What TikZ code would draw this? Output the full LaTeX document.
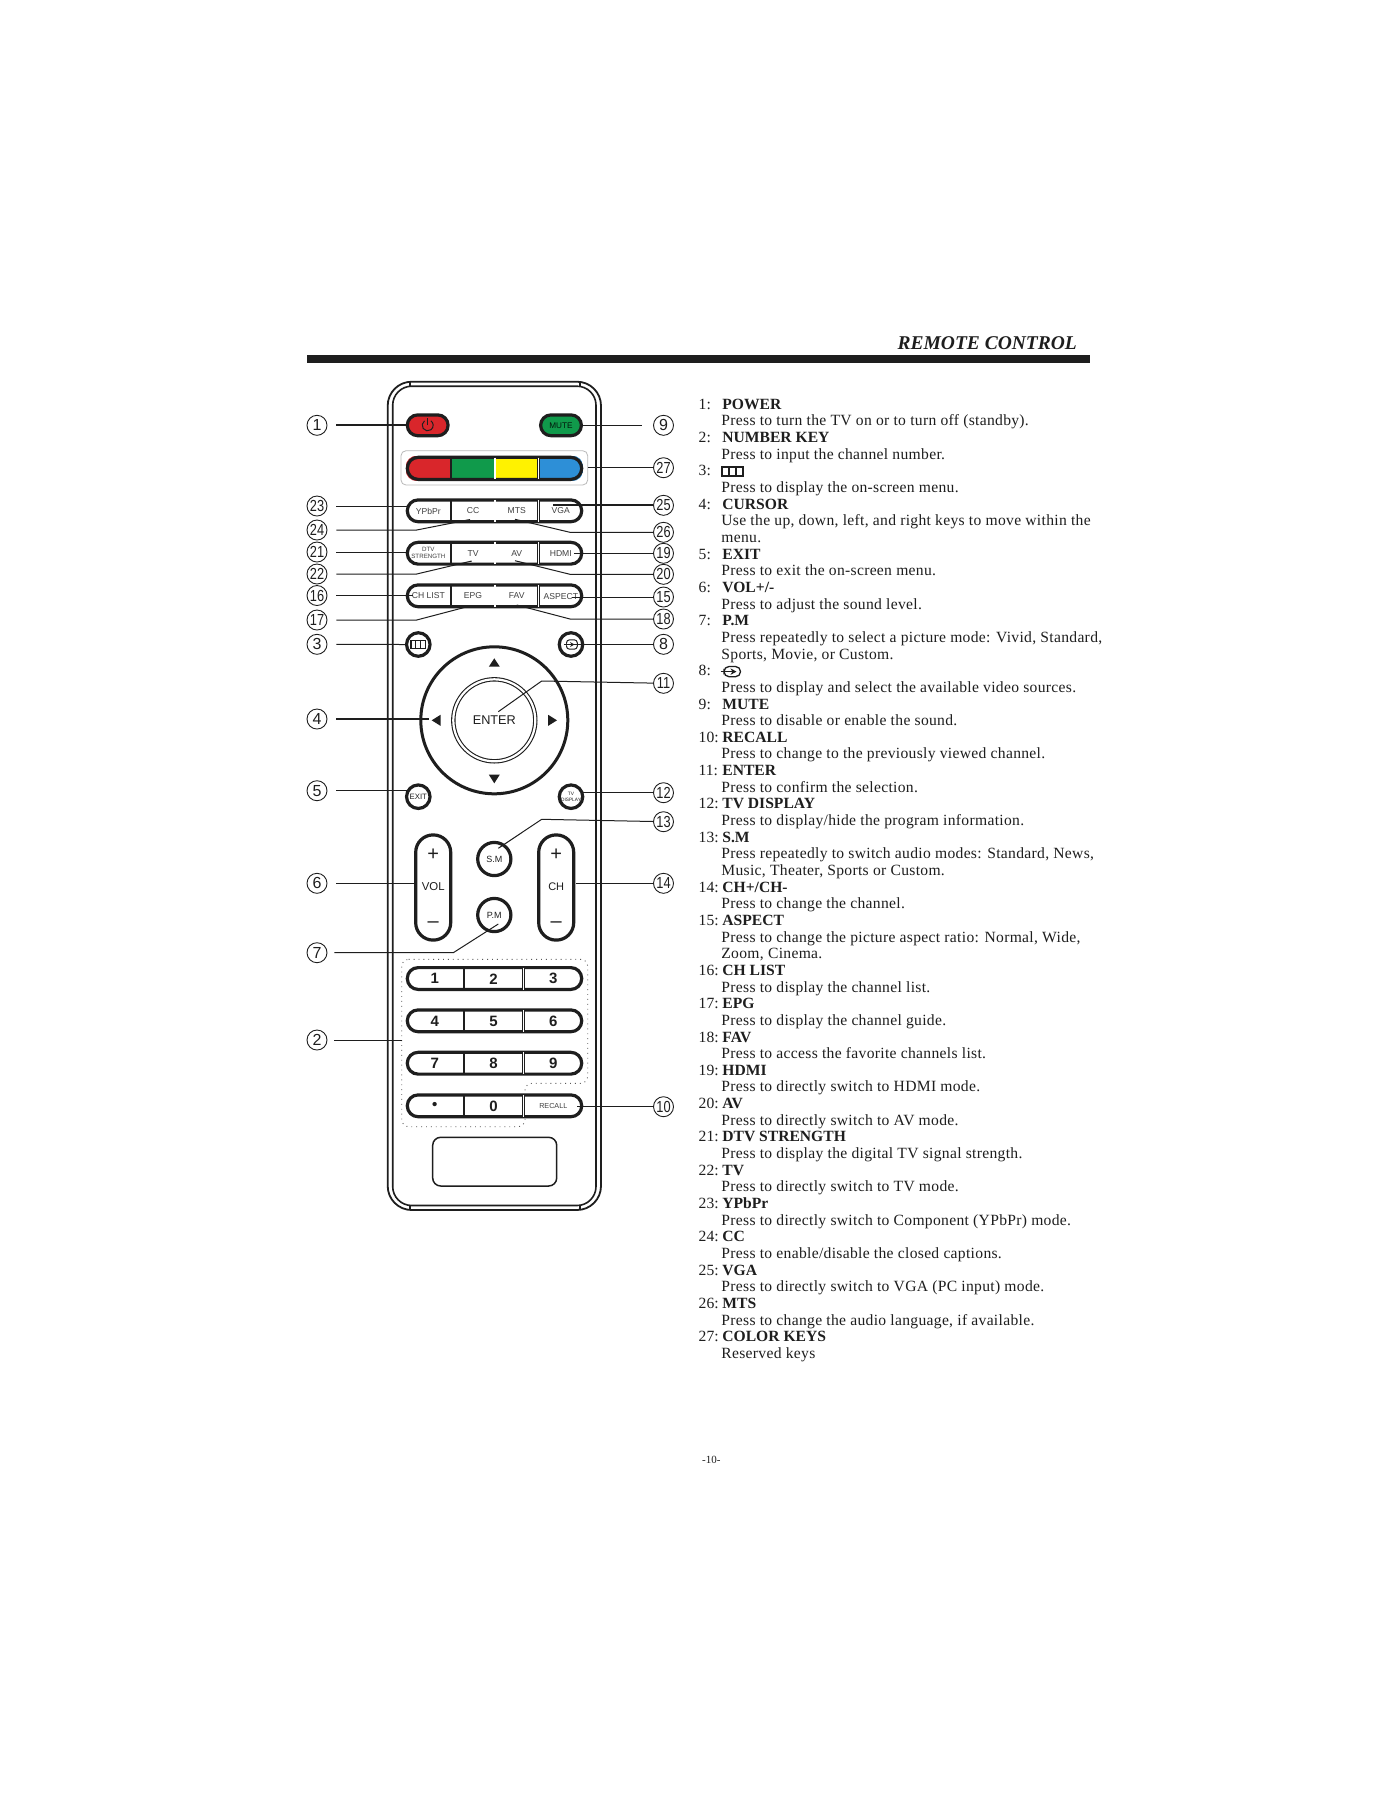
\documentclass[tikz,border=0pt]{standalone}
\usepackage{fontspec}
\setmainfont{Liberation Serif}
\newfontfamily\rsans{Liberation Sans}
\newfontfamily\rcond[FakeStretch=0.8]{Liberation Sans}
\newfontfamily\rdesc[LetterSpace=2]{Liberation Serif}
\usetikzlibrary{arrows.meta}
\definecolor{kred}{HTML}{D9262B}
\definecolor{kgreen}{HTML}{109A4B}
\definecolor{kyellow}{HTML}{FFF200}
\definecolor{kblue}{HTML}{2D8FD7}
\definecolor{ink}{HTML}{1E1E1E}
\newcommand\rcHead[3]{\node[txt] (n#1) at (698.3,{409.3+16.65*(#1-1)}) {#2};\node[txtb] (h#1) at (722,{409.3+16.65*(#1-1)}) {#3};}
\newcommand\rcDesc[2]{\node[txtd] (d#1) at (721,{409.3+16.65*(#1-1)}) {#2};}
\newcommand\fourrow[2]{%
  \node[pill] (#1) at (494.5,#2) {};
  \draw[ink,line width=1.1pt] (451,{#2-11}) -- (451,{#2+11});
  \draw[dbl] (495,{#2-11}) -- (495,{#2+11});
  \draw[dbl] (538.3,{#2-11}) -- (538.3,{#2+11});
}
\newcommand\threerow[2]{%
  \node[pill] (#1) at (494.5,#2) {};
  \draw[ink,line width=1.1pt] (464,{#2-11}) -- (464,{#2+11});
  \draw[dbl] (523.3,{#2-11}) -- (523.3,{#2+11});
}
\begin{document}
\begin{tikzpicture}[x=0.5pt,y=-0.5pt,
  callout/.style={circle,draw=ink,line width=0.45pt,minimum size=10pt,inner sep=0pt,font=\rsans\fontsize{8}{8}\selectfont,text=ink},
  callout2/.style={callout,font=\rcond\fontsize{8}{8}\selectfont},
  lead/.style={draw=ink,line width=0.5pt},
  leadL/.style={lead,shorten <=4.5pt},
  leadLT/.style={leadL,line width=1pt},
  leadT/.style={lead,line width=1pt},
  pill/.style={draw=ink,line width=1.6pt,fill=white,rounded corners=5.4pt,minimum width=87.2pt,minimum height=10.9pt,inner sep=0pt},
  dbl/.style={draw=ink,line width=0.45pt,double=white,double distance=0.55pt},
  rbtn/.style={circle,draw=ink,line width=1.6pt,fill=white,minimum size=11.75pt,inner sep=0pt},
  lbl/.style={font=\rsans\fontsize{4.3}{4.3}\selectfont,text=ink!85,inner sep=0pt},
  numl/.style={font=\rsans\bfseries\fontsize{7.5}{7.5}\selectfont,text=ink,inner sep=0pt},
  txt/.style={anchor=base west,inner sep=0pt,text=ink,font=\fontsize{7.8}{8}\selectfont},
  txtd/.style={txt,font=\rdesc\fontsize{7.8}{8}\selectfont},
  txtb/.style={txt,font=\bfseries\fontsize{7.8}{8}\selectfont},
]
\useasboundingbox (0,0) rectangle (1400,1812);
\fill[white] (0,0) rectangle (1400,1812);

% header
\node[anchor=base east,inner sep=0pt,text=ink,font=\bfseries\itshape\fontsize{9.75}{10}\selectfont] (title) at (1077.3,349.3) {REMOTE CONTROL};
\fill[ink] (306.7,355) rectangle (1090,363.3);

% remote body
\draw[ink,line width=0.9pt,rounded corners=12pt] (387.7,381.7) rectangle (601,1210);
\draw[ink,line width=0.8pt,rounded corners=9.5pt] (392.7,386.2) rectangle (596,1205.5);
\draw[ink,line width=0.6pt] (410,381.7) -- (410,386.2) (580,381.7) -- (580,386.2)
  (410,1205.5) -- (410,1210) (580,1205.5) -- (580,1210);

% power and mute
\node[draw=ink,line width=1.6pt,fill=kred,rounded corners=5.2pt,minimum width=20.4pt,minimum height=10.4pt,inner sep=0pt] (pwr) at (427.7,425.3) {};
\draw[ink,line width=0.5pt] ([shift={(125:2.75pt)}]pwr.center) arc[start angle=125,end angle=415,radius=2.75pt];
\draw[ink,line width=0.5pt] (pwr.center) -- ([yshift=3.6pt]pwr.center);
\node[draw=ink,line width=1.6pt,fill=kgreen,rounded corners=5.2pt,minimum width=20.4pt,minimum height=10.4pt,inner sep=0pt,font=\rsans\fontsize{4.1}{4.1}\selectfont,text=black!85!kgreen] (mute) at (561,425.3) {MUTE};

% colour keys
\draw[gray!55,line width=0.4pt,rounded corners=2.5pt] (401,450.7) rectangle (587.7,485);
\begin{scope}
  \clip[rounded corners=5.5pt] (405.7,455.7) rectangle (583.3,481);
  \fill[kred] (405.7,455.7) rectangle (451,481);
  \fill[kgreen] (451,455.7) rectangle (495,481);
  \fill[kyellow] (495,455.7) rectangle (538.3,481);
  \fill[kblue] (538.3,455.7) rectangle (583.3,481);
\end{scope}
\node[draw=ink,line width=1.6pt,rounded corners=5.5pt,minimum width=87.2pt,minimum height=11.05pt,inner sep=0pt] (colors) at (494.5,468.35) {};
\draw[ink,line width=1.1pt] (451,457.5) -- (451,479.2);
\draw[dbl] (495,457.5) -- (495,479.2);
\draw[dbl] (538.3,457.5) -- (538.3,479.2);

% function rows
\fourrow{rowA}{510.8}
\node[lbl] (tYPbPr) at (428.4,511) {YPbPr};
\node[lbl] (tCC) at (473,511) {CC};
\node[lbl] (tMTS) at (516.7,511) {MTS};
\node[lbl] (tVGA) at (560.8,511) {VGA};
\fourrow{rowB}{553.2}
\node[lbl,font=\rsans\fontsize{3.1}{3.8}\selectfont,align=center] (tDTV) at (428.4,553) {DTV\\STRENGTH};
\node[lbl] (tTV) at (473,553.4) {TV};
\node[lbl] (tAV) at (516.7,553.4) {AV};
\node[lbl] (tHDMI) at (560.8,553.4) {HDMI};
\fourrow{rowC}{595.8}
\node[lbl] (tCHL) at (428.4,596) {CH LIST};
\node[lbl] (tEPG) at (473,596) {EPG};
\node[lbl] (tFAV) at (516.7,596) {FAV};
\node[lbl] (tASP) at (560.8,596.5) {ASPECT};

% menu / source buttons
\node[rbtn] (menu) at (418.3,644.5) {};
\draw[ink,line width=0.55pt] (411,640.6) rectangle (425.6,648.2) (415.9,640.6) -- (415.9,648.2) (420.8,640.6) -- (420.8,648.2);
\node[rbtn] (src) at (571,644.5) {};
\draw[ink,line width=0.5pt,rounded corners=1.5pt] (566.5,641.8) -- (566.5,639.8) -- (577.3,639.8) -- (577.3,649.2) -- (566.5,649.2) -- (566.5,647.2);
\draw[ink,line width=0.5pt,-{Stealth[length=2.2pt,width=2.4pt]}] (563.8,644.5) -- (574.5,644.5);

% d-pad
\node[circle,draw=ink,line width=1.5pt,minimum size=73.5pt,inner sep=0pt] (dpad) at (494.3,720.3) {};
\node[circle,draw=ink,line width=0.55pt,double=white,double distance=1.1pt,minimum size=41pt,inner sep=0pt,font=\rsans\fontsize{6.35}{6.35}\selectfont,text=ink] (enter) at (494.3,720.3) {ENTER};
\fill[ink] (494.3,658.3) -- (488.8,666.7) -- (499.8,666.7) -- cycle;
\fill[ink] (494.3,783.3) -- (488.8,774.6) -- (499.8,774.6) -- cycle;
\fill[ink] (431.7,720.3) -- (440.5,714.8) -- (440.5,725.8) -- cycle;
\fill[ink] (557,720.3) -- (548.2,714.8) -- (548.2,725.8) -- cycle;

% exit / tv display
\node[rbtn,font=\rsans\fontsize{3.9}{3.9}\selectfont,text=ink] (exitb) at (418.3,796.7) {EXIT};
\node[rbtn,font=\rsans\fontsize{2.4}{2.8}\selectfont,text=ink,align=center] (tvd) at (571,796.7) {TV\\DISPLAY};

% S.M / P.M
\node[circle,draw=ink,line width=1.6pt,minimum size=16.6pt,inner sep=0pt,font=\rsans\fontsize{4.5}{4.5}\selectfont,text=ink] (sm) at (494.3,859) {S.M};
\node[circle,draw=ink,line width=1.6pt,minimum size=16.6pt,inner sep=0pt,font=\rsans\fontsize{4.5}{4.5}\selectfont,text=ink] (pm) at (494.3,915) {P.M};

% VOL / CH
\node[draw=ink,line width=1.6pt,rounded corners=8.7pt,minimum width=17.5pt,minimum height=52.6pt,inner sep=0pt] (vol) at (433.2,887.5) {};
\node[draw=ink,line width=1.6pt,rounded corners=8.7pt,minimum width=17.5pt,minimum height=52.6pt,inner sep=0pt] (ch) at (556.2,887.5) {};
\node[font=\rsans\fontsize{10}{10}\selectfont,text=ink,inner sep=0pt] (volp) at (433.2,854.5) {+};
\node[font=\rsans\fontsize{5.7}{5.7}\selectfont,text=ink,inner sep=0pt] (volt) at (433.2,886.7) {VOL};
\node[font=\rsans\fontsize{10}{10}\selectfont,text=ink,inner sep=0pt] (volm) at (433.2,925) {–};
\node[font=\rsans\fontsize{10}{10}\selectfont,text=ink,inner sep=0pt] (chp) at (556.2,854.5) {+};
\node[font=\rsans\fontsize{5.5}{5.5}\selectfont,text=ink,inner sep=0pt] (cht) at (556.2,886.7) {CH};
\node[font=\rsans\fontsize{10}{10}\selectfont,text=ink,inner sep=0pt] (chm) at (556.2,925) {–};

% number pad
\draw[gray!70!black,line width=0.45pt,dotted,rounded corners=3.5pt] (401.7,959.3) -- (587.7,959.3) -- (587.7,1083.3) -- (525,1083.3) -- (525,1126.7) -- (401.7,1126.7) -- cycle;
\threerow{numA}{978.5}
\threerow{numB}{1020.8}
\threerow{numC}{1063.2}
\threerow{numD}{1105.8}
\node[numl] (k1) at (434.8,978.8) {1};
\node[numl] (k2) at (493.6,978.8) {2};
\node[numl] (k3) at (553.3,978.8) {3};
\node[numl] (k4) at (434.8,1021.1) {4};
\node[numl] (k5) at (493.6,1021.1) {5};
\node[numl] (k6) at (553.3,1021.1) {6};
\node[numl] (k7) at (434.8,1063.5) {7};
\node[numl] (k8) at (493.6,1063.5) {8};
\node[numl] (k9) at (553.3,1063.5) {9};
\node[numl] (kdot) at (434.8,1106) {\textbullet};
\node[numl] (k0) at (493.6,1106.1) {0};
\node[lbl,font=\rsans\fontsize{3.6}{3.6}\selectfont] (krecall) at (553.3,1106) {RECALL};

% bottom window
\draw[ink,line width=0.75pt,rounded corners=4pt] (432.7,1137.3) rectangle (556.7,1186);

% callout circles
\node[callout] (c1) at (317,425.3) {1};
\node[callout2] (c23) at (317,506) {23};
\node[callout2] (c24) at (317,530) {24};
\node[callout2] (c21) at (317,552) {21};
\node[callout2] (c22) at (317,574) {22};
\node[callout2] (c16) at (317,595.5) {16};
\node[callout2] (c17) at (317,620) {17};
\node[callout] (c3) at (317,644.3) {3};
\node[callout] (c4) at (317,719) {4};
\node[callout] (c5) at (317,790.7) {5};
\node[callout] (c6) at (317,883.3) {6};
\node[callout] (c7) at (317,952.7) {7};
\node[callout] (c2) at (317,1040) {2};
\node[callout] (c9) at (663.5,425.3) {9};
\node[callout2] (c27) at (663.5,467.7) {27};
\node[callout2] (c25) at (663.5,505.3) {25};
\node[callout2] (c26) at (663.5,532.3) {26};
\node[callout2] (c19) at (663.5,553.3) {19};
\node[callout2] (c20) at (663.5,574.3) {20};
\node[callout2] (c15) at (663.5,597) {15};
\node[callout2] (c18) at (663.5,619) {18};
\node[callout] (c8) at (663.5,644.3) {8};
\node[callout2] (c11) at (663.5,683.3) {11};
\node[callout2] (c12) at (663.5,792.7) {12};
\node[callout2] (c13) at (663.5,821.7) {13};
\node[callout2] (c14) at (663.5,883.3) {14};
\node[callout2] (c10) at (663.5,1106.7) {10};

% leader end points
\coordinate (e23) at (406.5,506);
\coordinate (e24) at (470,519.5);
\coordinate (e21) at (407,552);
\coordinate (e22) at (471.7,561);
\coordinate (e16) at (413,595.5);
\coordinate (e17) at (470,606);
\coordinate (e4) at (429.3,719);
\coordinate (e5) at (406.5,790.7);
\coordinate (e6) at (413.5,883.3);
\coordinate (e7) at (498.3,924);
\coordinate (e2) at (401.7,1040);
\coordinate (e27) at (587.7,467.7);
\coordinate (e25) at (553,505.3);
\coordinate (e26) at (515,519.3);
\coordinate (e19) at (574,553.3);
\coordinate (e20) at (515,560.7);
\coordinate (e15) at (572,597);
\coordinate (e18) at (516.7,605);
\coordinate (e8) at (572,644.3);
\coordinate (e11) at (498.3,711.7);
\coordinate (e12) at (581,792.7);
\coordinate (e13) at (498.3,848.3);
\coordinate (e14) at (576,883.3);
\coordinate (e10) at (577,1106.7);

% left leaders
\draw[leadLT] (c1.east) -- (pwr.west);
\draw[leadL] (c23.east) -- (e23);
\draw[leadL] (c24.east) -- (416.7,530) -- (e24);
\draw[leadL] (c21.east) -- (e21);
\draw[leadL] (c22.east) -- (416.7,574) -- (e22);
\draw[leadL] (c16.east) -- (e16);
\draw[leadL] (c17.east) -- (416.7,620) -- (e17);
\draw[leadL] (c3.east) -- (menu.west);
\draw[leadLT] (c4.east) -- (e4);
\draw[leadL] (c5.east) -- (e5);
\draw[leadL] (c6.east) -- (e6);
\draw[leadL,shorten <=3.5pt] (c7.east) -- (453.3,952.7) -- (e7);
\draw[leadL,shorten <=3.5pt] (c2.east) -- (e2);

% right leaders
\draw[lead,shorten >=5.5pt] (mute.east) -- (c9.west);
\draw[lead] (e27) -- (c27.west);
\draw[leadT] (e25) -- (c25.west);
\draw[lead] (e26) -- (570,532.3) -- (c26.west);
\draw[lead] (e19) -- (c19.west);
\draw[lead] (e20) -- (570,574.3) -- (c20.west);
\draw[lead] (e15) -- (c15.west);
\draw[lead] (e18) -- (570,619) -- (c18.west);
\draw[lead] (e8) -- (c8.west);
\draw[lead] (e11) -- (541.7,681) -- (c11);
\draw[lead] (e12) -- (c12.west);
\draw[lead] (e13) -- (541.7,819.3) -- (c13);
\draw[lead] (e14) -- (c14.west);
\draw[lead] (e10) -- (c10.west);

% description text
\rcHead{1}{1:}{POWER}
\rcDesc{2}{Press to turn the TV on or to turn off (standby).}
\rcHead{3}{2:}{NUMBER KEY}
\rcDesc{4}{Press to input the channel number.}
\node[txt] (n5) at (698.3,475.9) {3:};
\draw[ink,line width=0.65pt] (722,466.9) rectangle (743,476) (729,466.9) -- (729,476) (736,466.9) -- (736,476);
\rcDesc{6}{Press to display the on-screen menu.}
\rcHead{7}{4:}{CURSOR}
\rcDesc{8}{Use the up, down, left, and right keys to move within the}
\rcDesc{9}{menu.}
\rcHead{10}{5:}{EXIT}
\rcDesc{11}{Press to exit the on-screen menu.}
\rcHead{12}{6:}{VOL+/-}
\rcDesc{13}{Press to adjust the sound level.}
\rcHead{14}{7:}{P.M}
\rcDesc{15}{Press repeatedly to select a picture mode: Vivid, Standard,}
\rcDesc{16}{Sports, Movie, or Custom.}
\node[txt] (n17) at (698.3,675.7) {8:};
\draw[ink,line width=0.65pt,rounded corners=2.5pt] (724,669) -- (724,666.5) -- (740.5,666.5) -- (740.5,676.7) -- (724,676.7) -- (724,674.2);
\draw[ink,line width=0.65pt,-{Stealth[length=3pt,width=3.2pt]}] (720.7,671.6) -- (736.5,671.6);
\rcDesc{18}{Press to display and select the available video sources.}
\rcHead{19}{9:}{MUTE}
\rcDesc{20}{Press to disable or enable the sound.}
\rcHead{21}{10:}{RECALL}
\rcDesc{22}{Press to change to the previously viewed channel.}
\rcHead{23}{11:}{ENTER}
\rcDesc{24}{Press to confirm the selection.}
\rcHead{25}{12:}{TV DISPLAY}
\rcDesc{26}{Press to display/hide the program information.}
\rcHead{27}{13:}{S.M}
\rcDesc{28}{Press repeatedly to switch audio modes: Standard, News,}
\rcDesc{29}{Music, Theater, Sports or Custom.}
\rcHead{30}{14:}{CH+/CH-}
\rcDesc{31}{Press to change the channel.}
\rcHead{32}{15:}{ASPECT}
\rcDesc{33}{Press to change the picture aspect ratio: Normal, Wide,}
\rcDesc{34}{Zoom, Cinema.}
\rcHead{35}{16:}{CH LIST}
\rcDesc{36}{Press to display the channel list.}
\rcHead{37}{17:}{EPG}
\rcDesc{38}{Press to display the channel guide.}
\rcHead{39}{18:}{FAV}
\rcDesc{40}{Press to access the favorite channels list.}
\rcHead{41}{19:}{HDMI}
\rcDesc{42}{Press to directly switch to HDMI mode.}
\rcHead{43}{20:}{AV}
\rcDesc{44}{Press to directly switch to AV mode.}
\rcHead{45}{21:}{DTV STRENGTH}
\rcDesc{46}{Press to display the digital TV signal strength.}
\rcHead{47}{22:}{TV}
\rcDesc{48}{Press to directly switch to TV mode.}
\rcHead{49}{23:}{YPbPr}
\rcDesc{50}{Press to directly switch to Component (YPbPr) mode.}
\rcHead{51}{24:}{CC}
\rcDesc{52}{Press to enable/disable the closed captions.}
\rcHead{53}{25:}{VGA}
\rcDesc{54}{Press to directly switch to VGA (PC input) mode.}
\rcHead{55}{26:}{MTS}
\rcDesc{56}{Press to change the audio language, if available.}
\rcHead{57}{27:}{COLOR KEYS}
\rcDesc{58}{Reserved keys}

% page number
\node[anchor=base west,inner sep=0pt,text=ink,font=\fontsize{5.5}{6}\selectfont] (pageno) at (701.7,1463.3) {-10-};
\end{tikzpicture}
\end{document}
